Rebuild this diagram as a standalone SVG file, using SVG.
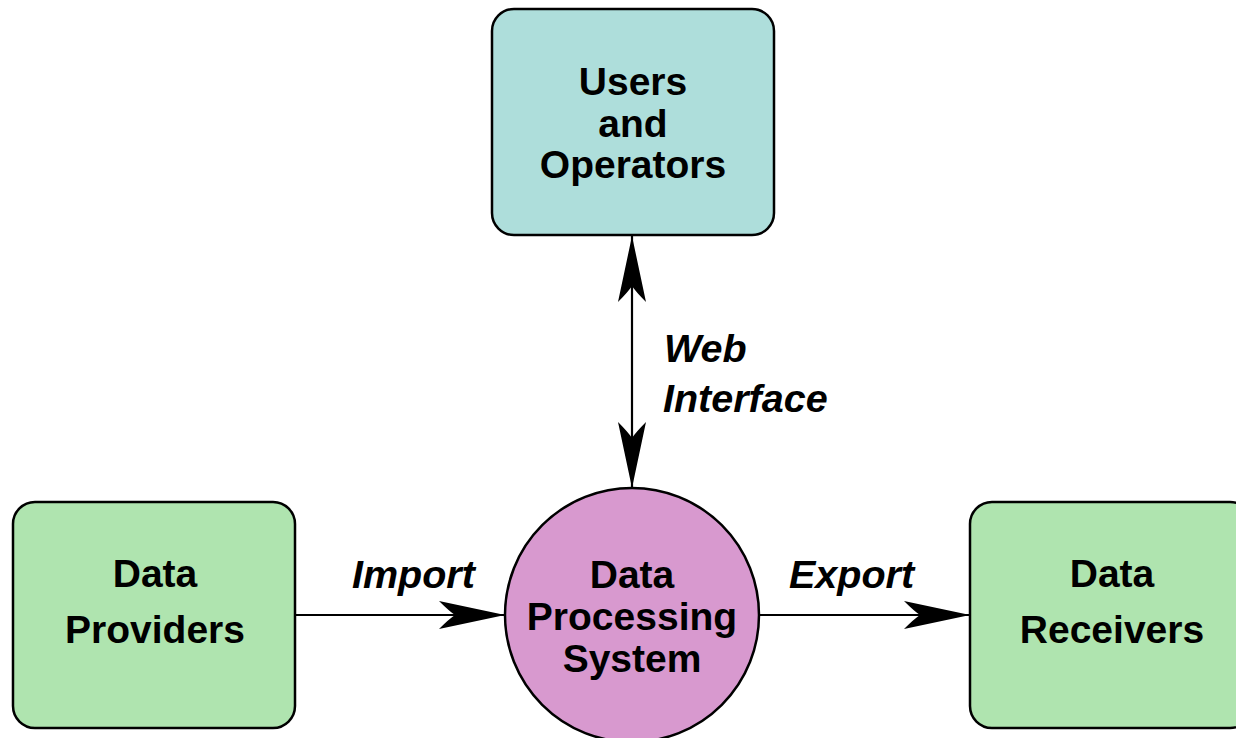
<svg xmlns="http://www.w3.org/2000/svg" width="1236" height="738" viewBox="0 0 1236 738">
  <style>
    .box { stroke: #000; stroke-width: 2.5; }
    .teal { fill: #aededb; }
    .green { fill: #afe4af; }
    .pink { fill: #d899cf; }
    .node-text { font-family: "Liberation Sans", Arial, sans-serif; font-weight: bold; font-size: 39px; fill: #000; text-anchor: middle; }
    .edge-text { font-family: "Liberation Sans", Arial, sans-serif; font-weight: bold; font-style: italic; font-size: 39.5px; fill: #000; }
    .edge { stroke: #000; stroke-width: 2.2; fill: none; }
  </style>
  <defs>
    <!-- notched arrowhead shared by every connector end -->
    <marker id="barb" markerUnits="userSpaceOnUse" viewBox="-68 -16 70 32" markerWidth="70" markerHeight="32" refX="0" refY="0" orient="auto-start-reverse">
      <path d="M0,0 L-66,-14 Q-56,-4 -50,0 Q-56,4 -66,14 Z" fill="#000"/>
    </marker>
  </defs>

  <rect width="1236" height="738" fill="#fff"/>

  <!-- connectors and their labels -->
  <g id="connectors">
    <line class="edge" x1="632" y1="236" x2="632" y2="488" marker-start="url(#barb)" marker-end="url(#barb)"/>
    <line class="edge" x1="295" y1="615" x2="505" y2="615" marker-end="url(#barb)"/>
    <line class="edge" x1="759" y1="615" x2="970" y2="615" marker-end="url(#barb)"/>
    <text class="edge-text" x="664" y="362">Web</text>
    <text class="edge-text" x="663" y="412">Interface</text>
    <text class="edge-text" x="352" y="588">Import</text>
    <text class="edge-text" x="789" y="588">Export</text>
  </g>

  <g id="users">
    <rect class="box teal" x="492" y="9" width="282" height="226" rx="22" ry="22"/>
    <text class="node-text" x="633" y="95">Users</text>
    <text class="node-text" x="633" y="137">and</text>
    <text class="node-text" x="633" y="178">Operators</text>
  </g>

  <g id="providers">
    <rect class="box green" x="13" y="502" width="282" height="226" rx="22" ry="22"/>
    <text class="node-text" x="155" y="587">Data</text>
    <text class="node-text" x="155" y="643">Providers</text>
  </g>

  <g id="processing">
    <circle class="box pink" cx="632" cy="615" r="127"/>
    <text class="node-text" x="632" y="588">Data</text>
    <text class="node-text" x="632" y="630">Processing</text>
    <text class="node-text" x="632" y="672">System</text>
  </g>

  <g id="receivers">
    <rect class="box green" x="970" y="502" width="282" height="226" rx="22" ry="22"/>
    <text class="node-text" x="1112" y="587">Data</text>
    <text class="node-text" x="1112" y="643">Receivers</text>
  </g>
</svg>
